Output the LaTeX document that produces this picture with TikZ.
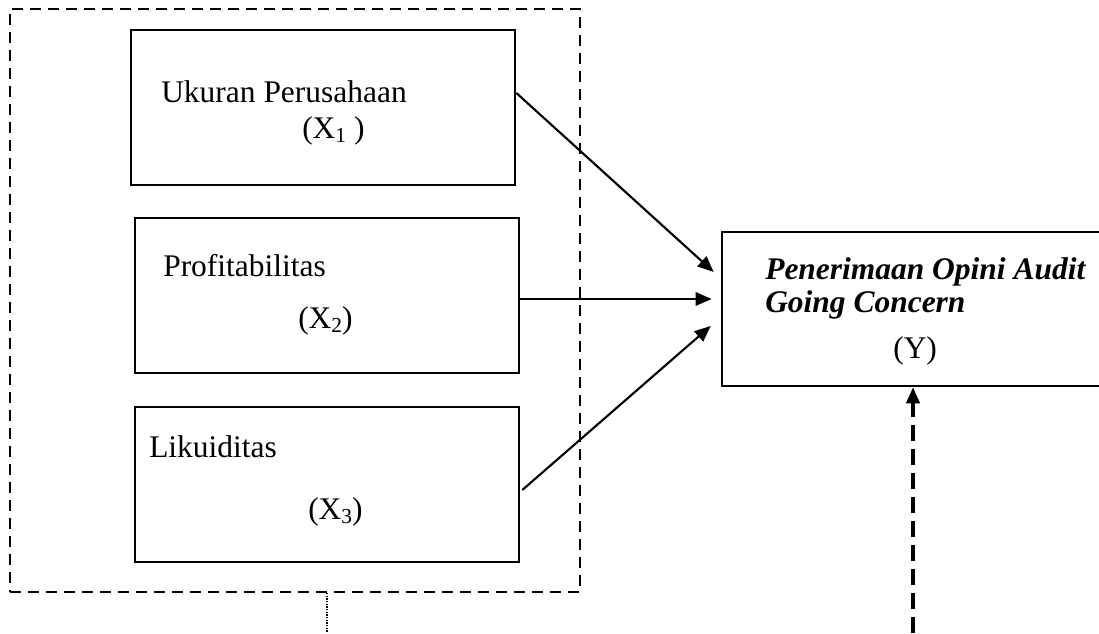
\documentclass[tikz,border=0pt]{standalone}
\usepackage{fontspec}
\setmainfont{Liberation Serif}
\usetikzlibrary{arrows.meta}
\newcommand\lowidx[1]{\raisebox{-0.3ex}{\scalebox{0.68}{#1}}}
\begin{document}
\begin{tikzpicture}[x=0.75pt,y=-0.75pt,
  varbox/.style={draw,line width=2pt,minimum width=288pt,minimum height=116.25pt,inner sep=0pt},
  lbl/.style={anchor=base west,inner sep=0pt,font=\fontsize{23.6}{28}\selectfont},
  arr/.style={line width=1.6pt,-{Triangle[length=12pt,width=10pt]}},
  grpbox/.style={draw,line width=1.7pt,dash pattern=on 8pt off 5.5pt,minimum width=427.5pt,minimum height=437.25pt,inner sep=0pt},
  dotln/.style={line width=1.1pt,dash pattern=on 1pt off 1pt},
  darr/.style={line width=2.3pt,dash pattern=on 12pt off 6pt,-{Triangle[length=12pt,width=10pt]}}]
\useasboundingbox (0,0) rectangle (1099,633);
\clip (0,0) rectangle (1099,633);
\node[grpbox] (grp) at (295,300.5) {};
\node[varbox] (x1) at (323,107.5) {};
\node[varbox] (x2) at (327,295.5) {};
\node[varbox] (x3) at (327,484.5) {};
\node[varbox,minimum width=291pt,minimum height=115.5pt] (y) at (916,309) {};
\node[lbl] (t1) at (161,102) {Ukuran Perusahaan};
\node[lbl] (t1b) at (302,138) {(X\lowidx{1} )};
\node[lbl] (t2) at (163,276) {Profitabilitas};
\node[lbl] (t2b) at (298,328) {(X\lowidx{2})};
\node[lbl] (t3) at (149,457) {Likuiditas};
\node[lbl] (t3b) at (308,519) {(X\lowidx{3})};
\node[lbl,font=\fontsize{23.6}{28}\selectfont\bfseries\itshape] (ty1) at (765,279) {Penerimaan Opini Audit};
\node[lbl,font=\fontsize{23.6}{28}\selectfont\bfseries\itshape] (ty2) at (765,312) {Going Concern};
\node[lbl] (ty3) at (893,358) {(Y)};
\draw[arr] ([yshift=10.9pt]x1.east) -- ([xshift=-5.25pt,yshift=27.75pt]y.west);
\draw[arr] ([yshift=-2.6pt]x2.east) -- ([xshift=-6.75pt,yshift=-2.6pt]x2.east -| y.west);
\draw[arr] ([xshift=1.5pt,yshift=-4.1pt]x3.east) -- ([xshift=-7.5pt,yshift=-12.75pt]y.west);
\coordinate (dd) at (327,633);
\draw[dotln] ([xshift=24pt]grp.south) -- (dd);
\coordinate (yb) at (913,633);
\draw[darr] (yb) -- ([xshift=-2.25pt]y.south);
\end{tikzpicture}
\end{document}
